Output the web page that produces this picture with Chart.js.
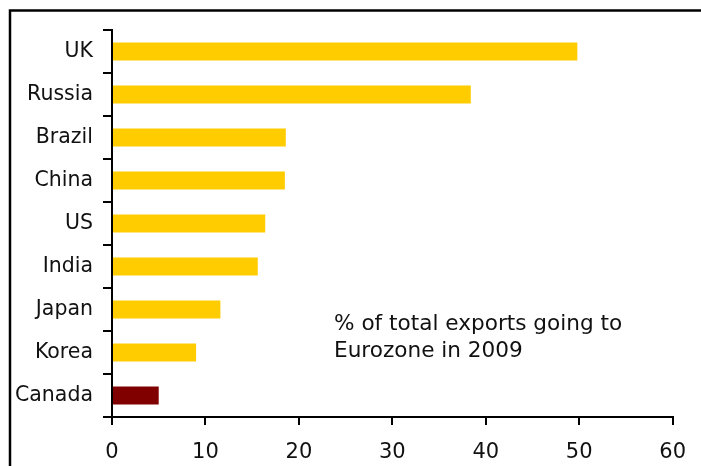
<!DOCTYPE html>
<html>
<head>
<meta charset="utf-8">
<script src="https://cdn.jsdelivr.net/npm/chart.js@4"></script>
<style>
  html, body { margin: 0; padding: 0; background: #fff; }
  #wrap { width: 701px; height: 466px; }
</style>
</head>
<body>
<div id="wrap"><canvas id="chartCanvas" width="701" height="466"></canvas></div>
<script>
// --- data ---
const countries = ["UK", "Russia", "Brazil", "China", "US", "India", "Japan", "Korea", "Canada"];
const exportShare = [49.8, 38.4, 18.6, 18.5, 16.4, 15.6, 11.6, 9.0, 5.0];
const barColors = ["#FFCC00", "#FFCC00", "#FFCC00", "#FFCC00", "#FFCC00", "#FFCC00", "#FFCC00", "#FFCC00", "#800000"];
const xTicks = [0, 10, 20, 30, 40, 50, 60];
const noteLines = ["% of total exports going to", "Eurozone in 2009"];

const FONT = "'DejaVu Sans', Verdana, sans-serif";

// outer frame + the text note inside the plot
const framePlugin = {
  id: "frame",
  afterDraw(chart) {
    const ctx = chart.ctx;
    ctx.save();
    ctx.strokeStyle = "#000";
    ctx.lineWidth = 2.5;
    ctx.beginPath();
    ctx.moveTo(10, chart.height + 5);
    ctx.lineTo(10, 10.5);
    ctx.lineTo(chart.width + 5, 10.5);
    ctx.stroke();

    ctx.fillStyle = "#111";
    ctx.font = "21.6px " + FONT;
    ctx.textAlign = "left";
    ctx.textBaseline = "alphabetic";
    noteLines.forEach((t, i) => ctx.fillText(t, 334, 330 + i * 27));
    ctx.restore();
  }
};

const canvas = document.getElementById("chartCanvas");
new Chart(canvas, {
  type: "bar",
  data: {
    labels: countries,
    datasets: [{
      data: exportShare,
      backgroundColor: barColors,
      borderWidth: 0,
      categoryPercentage: 1,
      barPercentage: 0.42
    }]
  },
  options: {
    indexAxis: "y",
    responsive: false,
    animation: false,
    layout: { padding: { left: 0, right: 28, top: 30, bottom: 0 } },
    plugins: {
      legend: { display: false },
      tooltip: { enabled: false }
    },
    scales: {
      x: {
        min: 0,
        max: 60,
        afterBuildTicks: axis => { axis.ticks = xTicks.map(v => ({ value: v })); },
        afterFit: axis => { axis.height = 49; },
        border: { color: "#000", width: 2 },
        grid: { drawOnChartArea: false, color: "#000", lineWidth: 2, tickLength: 8 },
        ticks: { color: "#111", font: { family: FONT, size: 21 }, padding: 15, maxRotation: 0 }
      },
      y: {
        afterFit: axis => { axis.width = 112; },
        border: { color: "#000", width: 2 },
        grid: { offset: true, drawOnChartArea: false, color: "#000", lineWidth: 2, tickLength: 9 },
        ticks: { color: "#111", font: { family: FONT, size: 20.5 }, padding: 10 }
      }
    }
  },
  plugins: [framePlugin]
});
</script>
</body>
</html>
